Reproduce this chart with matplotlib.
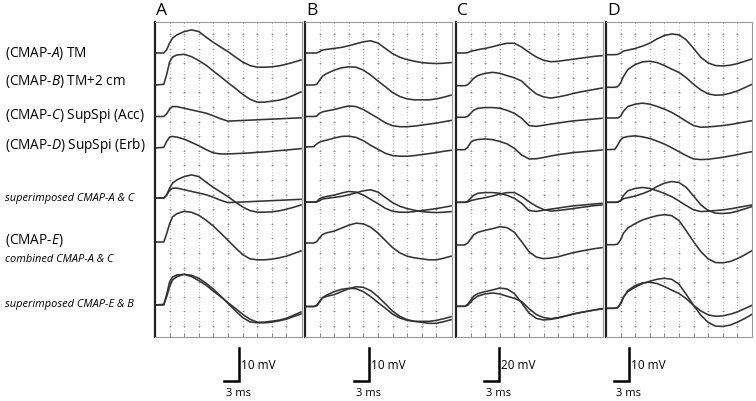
import numpy as np
import matplotlib
matplotlib.use('Agg')
import matplotlib.pyplot as plt

plt.rcParams['font.family'] = ['Open Sans', 'DejaVu Sans']
plt.rcParams['mathtext.fontset'] = 'custom'
plt.rcParams['mathtext.rm'] = 'Open Sans'
plt.rcParams['mathtext.it'] = 'Open Sans:italic'

# sample times (ms), shared by every trace
t = [0, 1.8, 2.4, 3.0, 3.6, 4.5, 6, 7.5, 9, 10.5, 12, 13.5, 15, 16.5, 18, 19.5, 21, 22.5, 24, 25.5, 27, 28.5, 30]

# panel A amplitudes (mV)
a_cmapA = [0, 0, 1.0, 3.0, 4.5, 5.5, 6.5, 7.0, 6.5, 4.8, 3.2, 1.8, 0.4, -1.2, -2.7, -3.8, -4.3, -4.3, -4.2, -3.9, -3.4, -2.8, -2.1]
a_cmapB = [0, 0.2, 3.2, 7.0, 8.5, 9.1, 9.3, 8.6, 7.4, 6.0, 4.2, 2.5, 0.7, -1.0, -2.8, -4.3, -5.2, -5.2, -4.9, -4.6, -4.0, -3.1, -2.1]
a_cmapC = [0, 0, 0.8, 2.3, 3.0, 3.0, 2.5, 2.0, 1.5, 1.0, 0.2, -0.7, -1.4, -1.3, -1.2, -1.1, -1.0, -0.9, -0.8, -0.7, -0.6, -0.5, -0.4]
a_cmapD = [0, 0.2, 2.0, 3.3, 3.5, 3.3, 2.7, 1.7, 0.7, -0.5, -1.5, -1.8, -1.8, -1.7, -1.6, -1.5, -1.3, -1.2, -1.0, -0.8, -0.6, -0.4, -0.2]
a_cmapE = [0, 0, 2.5, 5.5, 7.6, 8.6, 9.3, 9.0, 8.1, 6.6, 4.8, 2.7, 0.5, -1.7, -3.8, -5.1, -5.4, -5.4, -5.2, -4.8, -4.3, -3.5, -2.7]

# panel B
b_cmapA = [0, 0, 0, 0.4, 0.9, 1.1, 1.4, 1.7, 2.2, 2.8, 3.4, 3.7, 3.0, 1.4, -0.2, -1.3, -2.0, -2.5, -2.9, -3.1, -3.2, -3.1, -2.9]
b_cmapB = [0, 0, 0.2, 1.4, 2.7, 3.5, 4.5, 5.2, 5.5, 5.4, 4.5, 3.0, 1.2, -0.5, -2.3, -3.5, -4.2, -4.5, -4.5, -4.5, -4.2, -3.7, -3.1]
b_cmapC = [0, 0, 0.1, 1.0, 1.4, 1.7, 2.1, 2.7, 3.2, 3.0, 2.1, 0.8, -0.5, -1.9, -2.8, -3.1, -3.1, -2.9, -2.6, -2.3, -2.0, -1.6, -1.2]
b_cmapD = [0, 0.1, 0.9, 1.5, 1.8, 2.1, 2.7, 3.2, 3.3, 2.9, 1.9, 0.5, -0.7, -1.9, -2.6, -2.8, -2.8, -2.6, -2.3, -2.0, -1.7, -1.3, -1.0]
b_cmapE = [0, 0, 0.4, 1.6, 2.6, 3.1, 3.6, 4.5, 5.4, 6.0, 5.8, 4.8, 3.0, 0.8, -1.4, -3.0, -4.0, -4.5, -4.8, -5.1, -5.1, -4.6, -4.0]

# panel C
c_cmapA = [0, 0, 0.2, 1.0, 1.4, 2.0, 2.8, 3.8, 5.0, 5.9, 5.9, 3.6, 0.4, -2.4, -4.4, -5.3, -5.0, -4.4, -3.8, -3.2, -2.6, -2.0, -1.6]
c_cmapB = [0, 0, 0.6, 2.4, 4.4, 6.2, 7.5, 8.1, 7.5, 6.1, 4.8, 2.8, -1.4, -5.0, -6.8, -7.5, -6.8, -5.9, -4.8, -3.8, -3.0, -2.2, -1.4]
c_cmapC = [0, 0, 0.6, 2.4, 4.2, 5.5, 5.9, 5.9, 5.5, 4.2, 2.4, -0.6, -5.0, -5.5, -4.8, -4.1, -3.5, -2.8, -2.2, -1.8, -1.4, -1.0, -0.6]
c_cmapD = [0, 0, 1.4, 4.4, 5.6, 6.2, 6.5, 6.1, 5.0, 3.5, 0.8, -3.2, -5.6, -5.5, -4.7, -3.8, -3.0, -2.4, -1.8, -1.4, -1.0, -0.6, -0.2]
c_cmapE = [0, 0, 1.2, 3.6, 6.1, 7.7, 8.9, 9.9, 11.1, 10.5, 7.7, 2.0, -4.1, -7.3, -8.3, -7.9, -7.1, -5.9, -4.7, -3.8, -3.0, -2.2, -1.6]

# panel D
d_cmapA = [0, 0, 0.1, 0.5, 1.1, 1.4, 1.9, 2.6, 3.5, 4.8, 5.8, 6.3, 6.0, 4.5, 1.9, -0.8, -2.5, -3.3, -3.4, -3.2, -2.7, -2.0, -1.3]
d_cmapB = [0, 0, 0.2, 1.3, 3.3, 5.4, 6.9, 7.7, 7.9, 7.5, 6.6, 5.5, 4.5, 2.9, 0.9, -0.8, -2.0, -2.4, -2.3, -1.8, -1.1, -0.1, 0.9]
d_cmapC = [0, 0, 0, 0.5, 2.1, 3.5, 4.2, 4.5, 4.2, 3.5, 2.7, 1.7, 0.4, -1.0, -2.3, -2.8, -2.7, -2.5, -2.3, -2.0, -1.6, -1.2, -0.8]
d_cmapD = [0, 0.1, 1.4, 3.0, 3.7, 4.0, 4.2, 3.9, 3.4, 2.6, 1.7, 0.6, -0.6, -1.8, -2.8, -3.0, -2.9, -2.6, -2.3, -1.9, -1.5, -1.0, -0.6]
d_cmapE = [0, 0, 0.2, 1.5, 3.5, 5.1, 6.4, 7.5, 8.2, 8.8, 9.1, 8.8, 7.3, 4.2, 0.9, -2.1, -4.3, -5.4, -5.5, -5.1, -4.2, -3.1, -1.8]

panel_letters = ['A', 'B', 'C', 'D']
bar_mv = [10, 10, 20, 10]
bar_ms = 3

row_labels = [r'(CMAP-$\mathit{A}$) TM',
              r'(CMAP-$\mathit{B}$) TM+2 cm',
              r'(CMAP-$\mathit{C}$) SupSpi (Acc)',
              r'(CMAP-$\mathit{D}$) SupSpi (Erb)',
              'superimposed CMAP-A & C',
              r'(CMAP-$\mathit{E}$)',
              'combined CMAP-A & C',
              'superimposed CMAP-E & B']

panels = [
    (a_cmapA, a_cmapB, a_cmapC, a_cmapD, a_cmapE),
    (b_cmapA, b_cmapB, b_cmapC, b_cmapD, b_cmapE),
    (c_cmapA, c_cmapB, c_cmapC, c_cmapD, c_cmapE),
    (d_cmapA, d_cmapB, d_cmapC, d_cmapD, d_cmapE),
]

# layout, in pixels of the 756x402 figure
W, H = 756, 402
px_div = 14.6            # one 3 ms division
top, bottom = 23, 338
edges = [(155, 302), (305, 452), (456, 603), (606, 752)]
baselines = [
    [54, 86, 117.5, 149, 199, 243, 306],
    [54, 86, 117.5, 148, 203, 244, 307.5],
    [54, 86.7, 118.3, 150.7, 203.3, 246, 307.3],
    [55.7, 88.3, 119, 150.7, 203.3, 245.7, 309.3],
]
bar_x = [239, 369, 499, 629]

fig = plt.figure(figsize=(W / 100, H / 100), dpi=100)
trace_col = '#333333'

for i, (cA, cB, cC, cD, cE) in enumerate(panels):
    l, r = edges[i]
    mvpp = bar_mv[i] / 33.0
    ax = fig.add_axes([l / W, 1 - bottom / H, (r - l) / W, (bottom - top) / H])
    xmax = (r - l) / px_div * 3
    ymin = -(bottom - top) * mvpp
    ax.set_xlim(0, xmax)
    ax.set_ylim(ymin, 0)

    # dotted grid
    gx = np.arange(3, xmax - 0.5, 3)
    for x in gx:
        ax.axvline(x, color='#7a7a7a', lw=0.6, ls=(0, (0.8, 3.0)), zorder=0)
    gy = -np.arange(12, bottom - top, px_div) * mvpp
    GX, GY = np.meshgrid(gx, gy)
    ax.plot(GX.ravel(), GY.ravel(), ls='none', marker='_', ms=1.8, mew=0.6,
            color='#7a7a7a', zorder=0)

    rows = [(cA,), (cB,), (cC,), (cD,), (cA, cC), (cE,), (cE, cB)]
    for base_px, traces in zip(baselines[i], rows):
        y0 = -(base_px - top) * mvpp
        for tr in traces:
            ax.plot(t, np.array(tr) + y0, color=trace_col, lw=1.15,
                    solid_joinstyle='round')

    ax.set_xticks(gx)
    ax.set_yticks([])
    ax.tick_params(axis='x', direction='in', length=3, width=0.7,
                   colors='#888888', labelbottom=False)
    for side in ['top', 'right', 'bottom']:
        ax.spines[side].set_color('#9a9a9a')
        ax.spines[side].set_linewidth(0.8)
    ax.spines['left'].set_color('#222222')
    ax.spines['left'].set_linewidth(1.6)

    # scale bar
    bx = (bar_x[i] - l) / px_div * 3
    by = -(382 - top) * mvpp
    ax.plot([bx - bar_ms, bx, bx], [by, by, by + bar_mv[i]], color='black',
            lw=1.8, clip_on=False, solid_joinstyle='miter')
    fig.text((bar_x[i] + 2) / W, 1 - 366 / H, f'{bar_mv[i]} mV', fontsize=8.5,
             va='center', ha='left')
    fig.text((bar_x[i] - 13) / W, 1 - 394 / H, f'{bar_ms} ms', fontsize=8,
             va='center', ha='left')

    fig.text((l + 1) / W, 1 - 11 / H, panel_letters[i], fontsize=12.5,
             va='center', ha='left')

label_y = [53, 81, 116, 146, 199, 241, 259, 305]
label_style = [('normal', 9.8), ('normal', 9.8), ('normal', 9.8), ('normal', 9.8),
               ('italic', 7.9), ('normal', 9.8), ('italic', 7.9), ('italic', 7.9)]
for txt, y, (style, size) in zip(row_labels, label_y, label_style):
    fig.text(5 / W, 1 - y / H, txt, fontsize=size, style=style,
             va='center', ha='left')

fig.savefig('out.png', dpi=100)
